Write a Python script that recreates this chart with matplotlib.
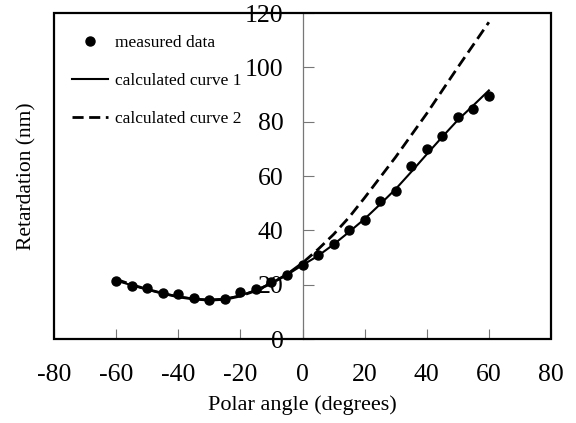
import matplotlib
matplotlib.use("Agg")
import matplotlib.pyplot as plt
from matplotlib.patches import Rectangle

plt.rcParams['font.family'] = ['Liberation Serif', 'DejaVu Serif']
plt.rcParams['axes.unicode_minus'] = False

angles = [-60, -55, -50, -45, -40, -35, -30, -25, -20, -15, -10, -5, 0,
          5, 10, 15, 20, 25, 30, 35, 40, 45, 50, 55, 60]
measured = [21.5, 19.6, 18.8, 16.9, 16.7, 15.1, 14.5, 14.7, 17.2, 18.4, 21.0, 23.6, 27.1,
            30.8, 35.0, 40.2, 43.7, 50.9, 54.5, 63.7, 70.1, 74.7, 81.8, 84.7, 89.3]
curve1 = [21.5, 19.8, 18.2, 16.8, 15.6, 14.8, 14.4, 14.8, 16.0, 18.0, 20.5, 23.6, 27.2,
          30.6, 34.8, 39.4, 44.2, 49.6, 55.2, 61.5, 68.0, 74.4, 80.6, 86.0, 91.5]
curve2 = [22.0, 20.0, 18.3, 16.8, 15.5, 14.7, 14.3, 14.6, 15.8, 17.8, 20.5, 23.8, 28.0,
          33.0, 38.5, 44.8, 52.0, 59.5, 67.0, 75.0, 83.0, 91.5, 100.0, 108.3, 116.6]

xticks = [-80, -60, -40, -20, 0, 20, 40, 60, 80]
yticks = [0, 20, 40, 60, 80, 100, 120]

fig = plt.figure(figsize=(5.76, 4.23), dpi=100)
ax = fig.add_axes([54/576, 1-339/423, 497/576, 326/423])

ax.plot(angles, curve1, color='black', lw=1.5, zorder=2, label='calculated curve 1')
ax.plot(angles, curve2, color='black', lw=2.0, linestyle=(0, (4, 2)), zorder=2,
        label='calculated curve 2')
ax.plot(angles, measured, 'o', color='black', markersize=6.5, zorder=3, label='measured data')

ax.set_xlim(-80, 80)
ax.set_ylim(0, 120)
ax.set_xticks(xticks)
ax.set_yticks(yticks)

for s in ['top', 'right', 'bottom']:
    ax.spines[s].set_visible(False)
ax.spines['left'].set_position(('data', 0))
ax.spines['left'].set_color('#777777')
ax.spines['left'].set_linewidth(0.9)

ax.add_patch(Rectangle((0, 0), 1, 1, transform=ax.transAxes, fill=False,
                       edgecolor='black', lw=1.6, zorder=5, clip_on=False))

ax.tick_params(axis='x', direction='in', length=7, width=0.8, color='#777777',
               labelsize=18.5, pad=18, labelcolor='black')
ax.tick_params(axis='y', direction='in', length=8, width=0.8, color='#777777',
               labelsize=18.5, pad=13.5, labelcolor='black')

ax.set_xlabel('Polar angle (degrees)', fontsize=16)
ax.xaxis.set_label_coords(0.5, (339-395)/326)
ax.set_ylabel('Retardation (nm)', fontsize=15.5)
ax.yaxis.set_label_coords((36-54)/497, 0.5)

h, l = ax.get_legend_handles_labels()
order = [2, 0, 1]
ax.legend([h[i] for i in order], [l[i] for i in order], loc='upper left',
          bbox_to_anchor=(18/497, (339-35)/326), frameon=False, fontsize=12.5,
          handlelength=2.1, handletextpad=0.35, labelspacing=1.25,
          borderaxespad=0, borderpad=0)

fig.savefig('out.png', dpi=100)
